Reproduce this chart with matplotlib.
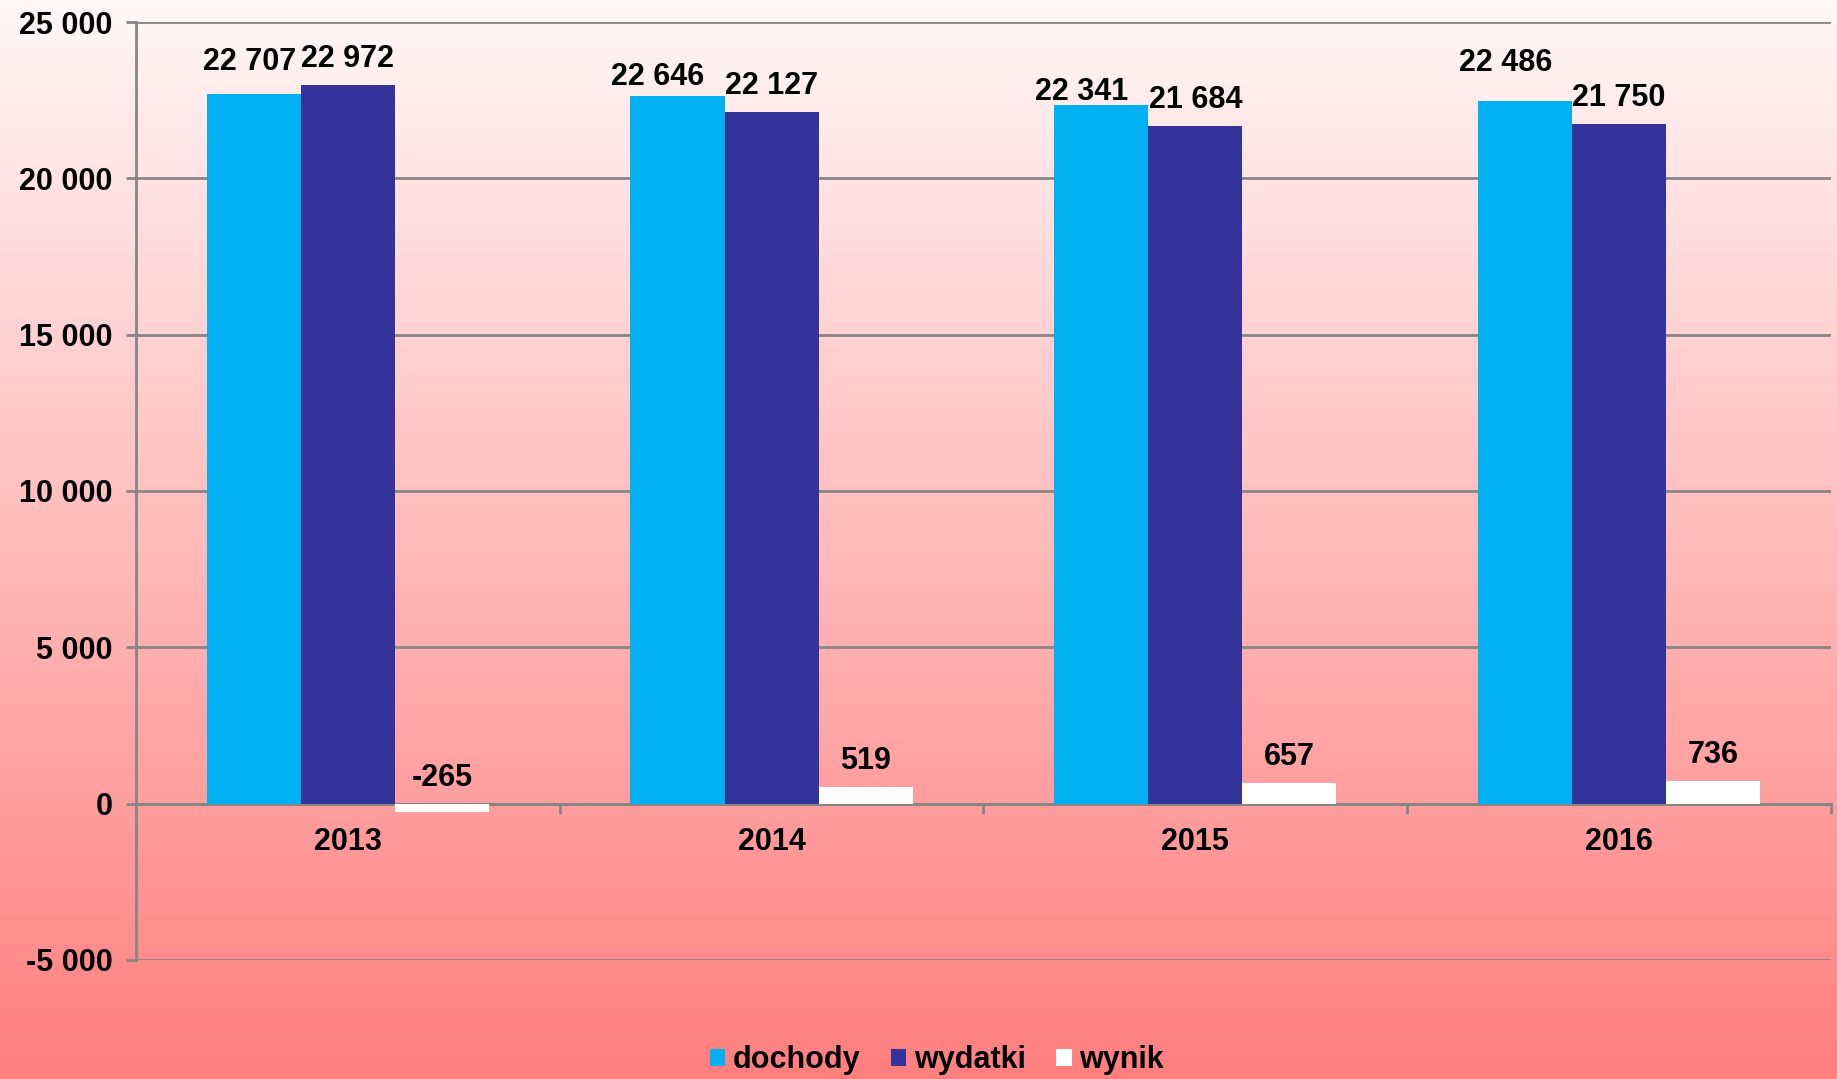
import matplotlib.pyplot as plt
import numpy as np

plt.rcParams['font.family'] = ['Liberation Sans', 'DejaVu Sans']
plt.rcParams['font.weight'] = 'bold'

years = ['2013', '2014', '2015', '2016']
dochody = [22707, 22646, 22341, 22486]
wydatki = [22972, 22127, 21684, 21750]
wynik = [-265, 519, 657, 736]

series = [('dochody', dochody, '#00B0F0'),
          ('wydatki', wydatki, '#333399'),
          ('wynik', wynik, '#FFFFFF')]

# label offsets in points (the dochody labels were moved by hand in the original)
label_offsets = {
    'dochody': [(-3, 17), (-14, 8), (-14, 4), (-14, 21)],
    'wydatki': [(0, 13)] * 4,
    'wynik': [(0, 13)] * 4,
}

FS = 22

fig = plt.figure(figsize=(18.37, 10.79), dpi=100)

# background gradient
bg = fig.add_axes([0, 0, 1, 1], zorder=0)
grad = np.linspace(0, 1, 256)[:, None]
top = np.array([255, 247, 247]) / 255
bot = np.array([255, 127, 127]) / 255
img = top[None, None, :] * (1 - grad[:, :, None]) + bot[None, None, :] * grad[:, :, None]
bg.imshow(img, aspect='auto', extent=[0, 1, 0, 1])
bg.axis('off')

ax = fig.add_axes([0.074, 0.1103, 0.9227, 0.8693], zorder=1)
ax.patch.set_alpha(0)

x = np.arange(len(years))
w = 0.222
for i, (name, vals, col) in enumerate(series):
    pos = x + (i - 1) * w
    ax.bar(pos, vals, w, color=col, label=name, zorder=3)
    for p, v, off in zip(pos, vals, label_offsets[name]):
        ax.annotate(f'{v:,}'.replace(',', ' '), (p, max(v, 0)),
                    xytext=off, textcoords='offset points',
                    ha='center', va='baseline', fontsize=FS, fontweight='bold')

ax.set_xlim(-0.5, 3.5)
ax.set_ylim(-5000, 25000)
ax.set_yticks(np.arange(-5000, 25001, 5000))
ax.set_yticklabels([f'{t:,}'.replace(',', ' ') for t in range(-5000, 25001, 5000)],
                   fontsize=FS, fontweight='bold')
ax.yaxis.grid(True, color='#868686', linewidth=2, zorder=0)
ax.set_axisbelow(True)

ax.spines['top'].set_visible(False)
ax.spines['right'].set_visible(False)
ax.spines['left'].set_color('#868686')
ax.spines['left'].set_linewidth(2)
ax.spines['bottom'].set_position(('data', 0))
ax.spines['bottom'].set_color('#868686')
ax.spines['bottom'].set_linewidth(2)

ax.set_xticks(x)
ax.set_xticklabels(years, fontsize=FS, fontweight='bold')
ax.tick_params(axis='x', which='major', length=0, pad=17)
ax.set_xticks(np.arange(-0.5, 3.6, 1), minor=True)
ax.tick_params(axis='x', which='minor', length=7, width=2, color='#868686', direction='out')
ax.tick_params(axis='y', length=7, width=2, color='#868686', pad=10)

fig.legend(loc='lower center', bbox_to_anchor=(0.51, -0.022), ncol=3, frameon=False,
           prop={'size': FS, 'weight': 'bold'}, handlelength=0.5, handleheight=0.5,
           handletextpad=0.25, columnspacing=1.0)

fig.savefig('out.png', dpi=100)
